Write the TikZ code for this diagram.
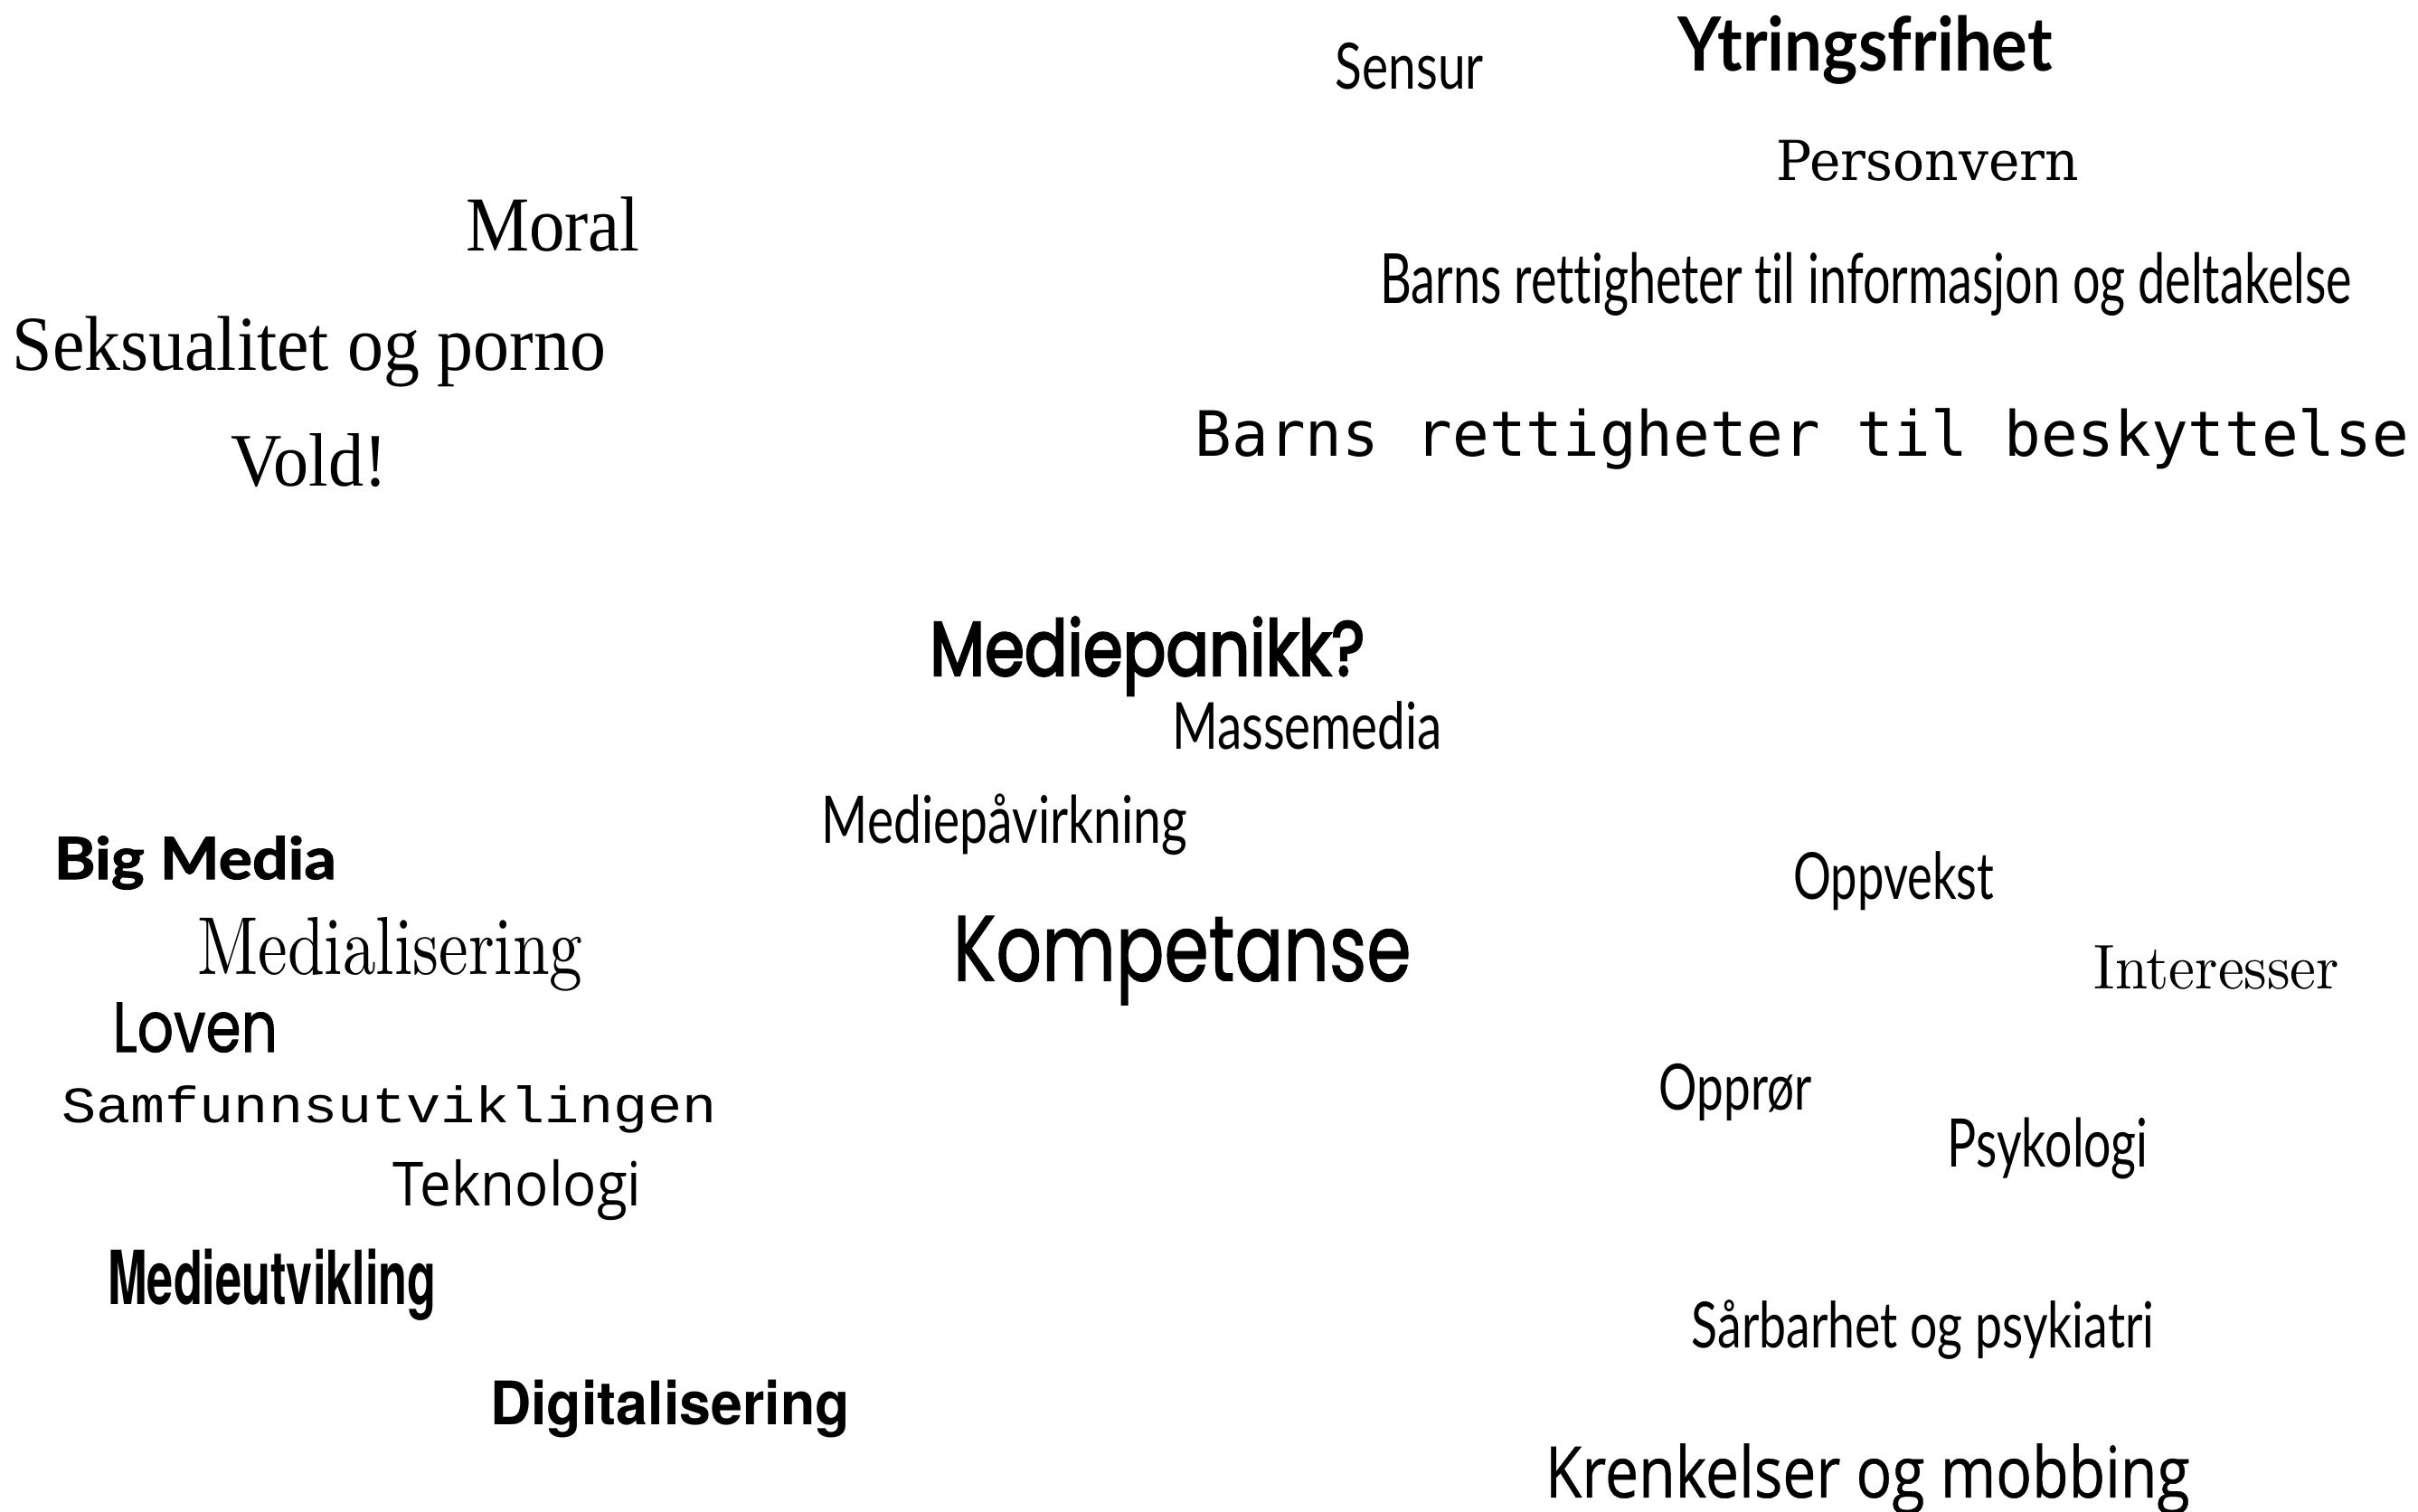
\documentclass[tikz,border=0pt]{standalone}
\usepackage{fontspec}
\usepackage{graphicx}
\newfontfamily\condf{Lato}[Ligatures=NoCommon]
\newfontfamily\latoheavy{Lato}[Ligatures=NoCommon, BoldFeatures={FakeBold=1.5}]
\newfontfamily\monof{DejaVu Sans Mono}
\newfontfamily\courf{Liberation Mono}
\newfontfamily\georf{Liberation Serif}
\newfontfamily\futmed{Poppins}[FakeBold=1.2]
\newfontfamily\futdemi{Poppins}[FakeBold=3]
\newfontfamily\typef{DejaVu Serif}
\newfontfamily\helvf{TeX Gyre Heros}
\newfontfamily\opensf{Open Sans}
\newfontfamily\gillf{Open Sans}[FakeBold=0.6]
\newlength\pxu
\setlength\pxu{0.5pt}
\newcommand\fitw[3]{\resizebox{#1\pxu}{#2\pxu}{#3}}
\tikzset{word/.style={inner sep=0pt, outer sep=0pt, anchor=base west}}
\begin{document}
\begin{tikzpicture}[x=0.5pt,y=-0.5pt]
\useasboundingbox[fill=white] (0,0) rectangle (1568,980);
% top right
\node[word] (sensur) at (866,58) {\fitw{96}{30}{\condf Sensur}};
\node[word] (ytring) at (1088,46) {\fitw{243}{36}{\condf\bfseries Ytringsfrihet}};
\node[word] (person) at (1152,117) {\fitw{196}{26}{\typef Personvern}};
\node[word] (barnsinfo) at (895,197) {\fitw{630}{33}{\condf Barns rettigheter til informasjon og deltakelse}};
\node[word] (barnsbesk) at (775,296) {\fitw{787}{31}{\monof Barns rettigheter til beskyttelse}};
% top left
\node[word] (moral) at (302,163) {\fitw{113}{35}{\georf Moral}};
\node[word] (seks) at (8,240) {\fitw{385}{35}{\georf Seksualitet og porno}};
\node[word] (vold) at (150,315) {\fitw{101}{34}{\georf Vold!}};
% centre
\node[word] (panikk) at (603,438) {\fitw{282}{38}{\futdemi Mediepanikk?}};
\node[word] (masse) at (760,486) {\fitw{175}{31}{\condf Massemedia}};
\node[word] (pavirk) at (533,547) {\fitw{237}{32}{\condf Mediepåvirkning}};
\node[word] (kompet) at (618,636) {\fitw{297}{42}{\futmed Kompetanse}};
% bottom left
\node[word] (bigmedia) at (35,570) {\fitw{183}{28}{\latoheavy\bfseries Big Media}};
\node[word] (medialis) at (128,632) {\fitw{250}{37}{\rmfamily Medialisering}};
\node[word] (loven) at (73,682) {\fitw{107}{32}{\futmed Loven}};
\node[word] (samfunn) at (40,728) {\fitw{425}{24}{\courf Samfunnsutviklingen}};
\node[word] (teknologi) at (255,782) {\fitw{161}{30}{\opensf Teknologi}};
\node[word] (medieutv) at (70,846) {\fitw{213}{36}{\helvf\bfseries Medieutvikling}};
\node[word] (digital) at (318,924) {\fitw{233}{29}{\helvf\bfseries Digitalisering}};
% bottom right
\node[word] (oppvekst) at (1163,583) {\fitw{130}{31}{\condf Oppvekst}};
\node[word] (interesser) at (1358,641) {\fitw{159}{28}{\rmfamily Interesser}};
\node[word] (oppror) at (1076,720) {\fitw{99}{30}{\condf Opprør}};
\node[word] (psykologi) at (1263,757) {\fitw{130}{32}{\condf Psykologi}};
\node[word] (sarbarhet) at (1097,874) {\fitw{300}{31}{\condf Sårbarhet og psykiatri}};
\node[word] (krenkelser) at (1002,971) {\fitw{418}{35}{\gillf Krenkelser og mobbing}};
\end{tikzpicture}
\end{document}
